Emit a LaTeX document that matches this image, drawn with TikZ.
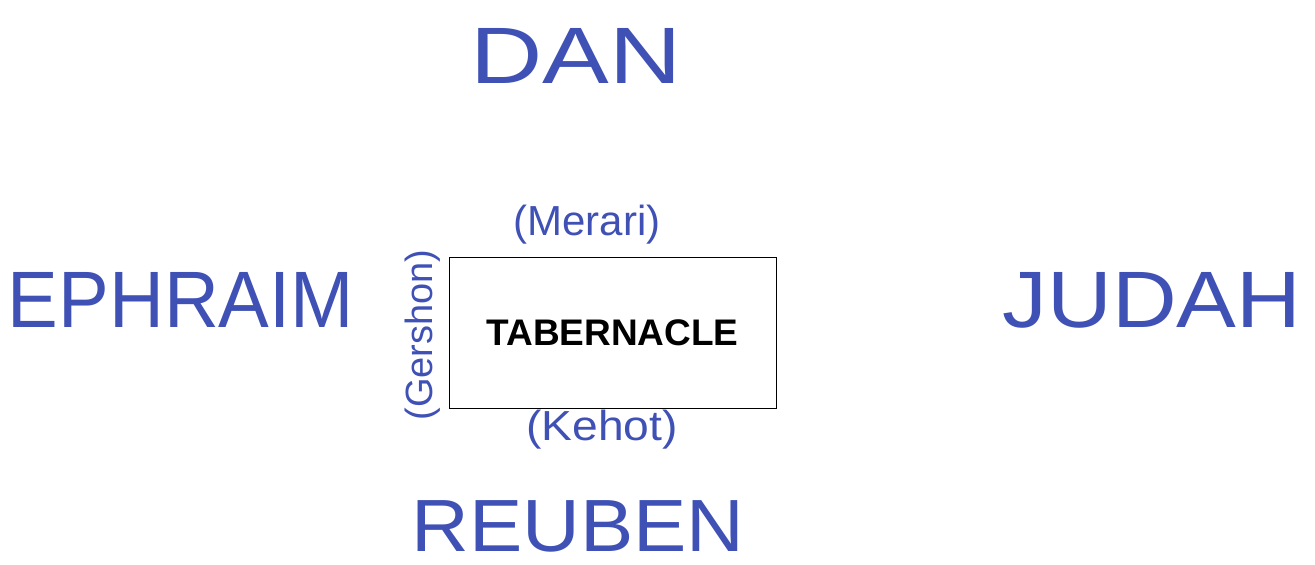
\documentclass[tikz,border=0pt]{standalone}
\usepackage{fontspec}
\setmainfont{Liberation Sans}
\definecolor{ink}{RGB}{63,81,181}
\tikzset{
  tribe/.style={text=ink, font=\fontsize{80}{80}\selectfont, inner sep=0pt},
  clan/.style={text=ink, font=\fontsize{42}{42}\selectfont, inner sep=0pt},
  tabbox/.style={draw=black, line width=0.8pt, minimum width=327pt, minimum height=151pt, inner sep=0pt,
    font=\fontsize{37}{37}\selectfont\bfseries}
}
\begin{document}
\begin{tikzpicture}[x=1pt,y=-1pt]
\useasboundingbox (0,0) rectangle (1315,565);
\node[tabbox] (tab) at (612.5,332.5) {TABERNACLE};
\node[tribe, xscale=1.25] (dan) at (576,56) {DAN};
\node[tribe, xscale=0.95] (ephraim) at (181,300) {EPHRAIM};
\node[tribe, xscale=1.12] (judah) at (1152,300) {JUDAH};
\node[tribe, font=\fontsize{74}{74}\selectfont, xscale=1.08] (reuben) at (578,526) {REUBEN};
\node[clan] (merari) at (587,225) {(Merari)};
\node[clan, xscale=1.1] (kehot) at (602,430) {(Kehot)};
\node[clan, rotate=90, font=\fontsize{38}{38}\selectfont] (gershon) at (423,335) {(Gershon)};
\end{tikzpicture}
\end{document}
